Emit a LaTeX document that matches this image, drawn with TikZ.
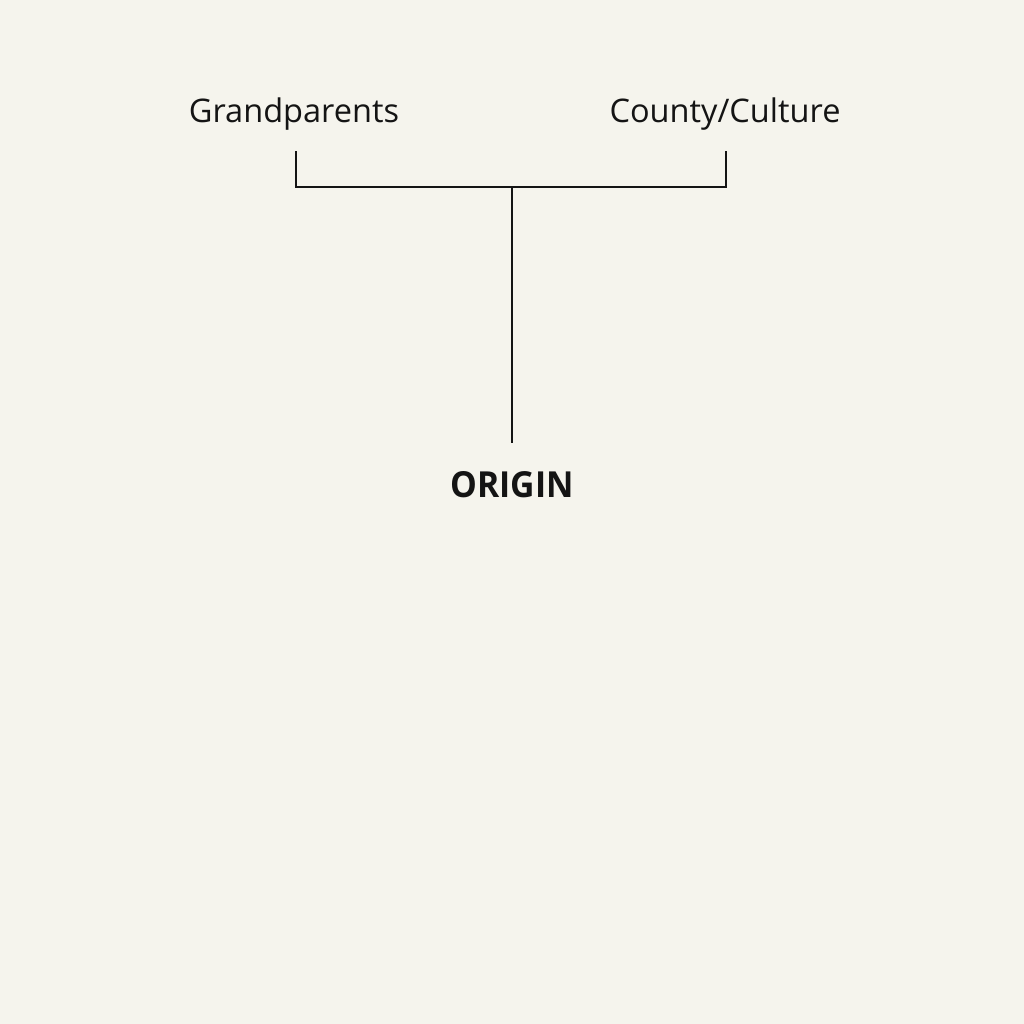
\documentclass[tikz,border=0pt]{standalone}
\usepackage{fontspec}
\setmainfont{Open Sans}
\definecolor{bg}{RGB}{245,244,237}
\definecolor{ink}{RGB}{20,20,20}
\begin{document}
\begin{tikzpicture}[x=0.01cm,y=-0.01cm,
  lbl/.style={inner sep=0pt,anchor=base,text=ink,font=\fontsize{9.25pt}{11pt}\selectfont},
  hub/.style={inner sep=0pt,anchor=base,text=ink,font=\fontsize{10.2pt}{12pt}\selectfont\bfseries},
  conn/.style={draw=ink,line width=0.6pt}]
\fill[bg] (0,0) rectangle (1024,1024);
\useasboundingbox (0,0) rectangle (1024,1024);
\node[lbl] (gp) at (294,122) {Grandparents};
\node[lbl] (cc) at (725,122) {County/Culture};
\node[hub,xscale=0.94] (origin) at (512,497) {ORIGIN};
\coordinate (gpend) at (296,151);
\coordinate (ccend) at (726,151);
\coordinate (junction) at (512,187);
\coordinate (originend) at (512,443);
\draw[conn] (gpend) |- (junction) -| (ccend);
\draw[conn] (junction) -- (originend);
\end{tikzpicture}
\end{document}
